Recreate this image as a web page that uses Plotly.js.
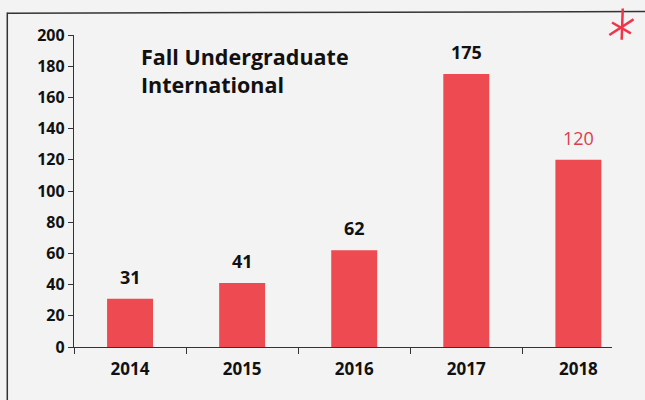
<!DOCTYPE html>
<html>
<head>
<meta charset="utf-8">
<script src="https://cdn.plot.ly/plotly-3.0.1.min.js"></script>
<style>html,body{margin:0;padding:0;background:#f3f3f3;}#chart{width:645px;height:400px;}</style>
</head>
<body>
<div id="chart"></div>
<script>
const years = ['2014', '2015', '2016', '2017', '2018'];
const students = [31, 41, 62, 175, 120];
const labelColors = ['#111111', '#111111', '#111111', '#111111', '#d9404c'];
const labelBold = [true, true, true, true, false];
const yTicks = [0, 20, 40, 60, 80, 100, 120, 140, 160, 180, 200];

const font = '"Open Sans", Lato, sans-serif';

const annotations = years.map((y, i) => ({
  x: i, y: students[i], xref: 'x', yref: 'y',
  text: labelBold[i] ? '<b>' + students[i] + '</b>' : String(students[i]),
  showarrow: false,
  yanchor: 'bottom', yshift: 8,
  font: {family: font, size: 18, color: labelColors[i]}
}));
annotations.push({
  xref: 'paper', yref: 'paper', x: 0.12, y: 0.985,
  xanchor: 'left', yanchor: 'top', align: 'left', showarrow: false,
  text: '<b>Fall Undergraduate<br>International</b>',
  font: {family: font, size: 21.5, color: '#111111'}
});

const layout = {
  width: 645, height: 400,
  margin: {l: 74, r: 33, t: 35, b: 53},
  paper_bgcolor: '#f3f3f3', plot_bgcolor: 'rgba(0,0,0,0)',
  showlegend: false,
  bargap: 0.59,
  xaxis: {
    type: 'category', range: [-0.5, 4.3],
    showline: true, linecolor: '#333', linewidth: 1.2,
    ticks: 'outside', tickson: 'boundaries', ticklen: 6, tickcolor: '#333',
    showgrid: false, zeroline: false,
    ticklabelstandoff: 6,
    tickfont: {family: font, size: 17, color: '#111', weight: 'bold'}
  },
  yaxis: {
    range: [0, 200], tickvals: yTicks,
    showline: true, linecolor: '#333', linewidth: 1.2,
    ticks: 'outside', ticklen: 5, tickcolor: '#333',
    showgrid: false, zeroline: false,
    tickfont: {family: font, size: 16, color: '#111', weight: 'bold'}
  },
  annotations: annotations,
  shapes: [
    {type: 'line', xref: 'paper', yref: 'paper', x0: -0.124, x1: 1.07, y0: 1.07, y1: 1.075, line: {color: '#333', width: 1.5}},
    {type: 'line', xref: 'paper', yref: 'paper', x0: -0.124, x1: -0.124, y0: 1.072, y1: -0.2, line: {color: '#333', width: 1.5}},
    {type: 'line', xref: 'paper', yref: 'paper', x0: 0.995, x1: 1.04, y0: 1.0, y1: 1.05, line: {color: '#f0344a', width: 2.5}},
    {type: 'line', xref: 'paper', yref: 'paper', x0: 1.0, x1: 1.035, y0: 1.04, y1: 1.005, line: {color: '#f0344a', width: 2.5}},
    {type: 'line', xref: 'paper', yref: 'paper', x0: 1.02, x1: 1.018, y0: 1.085, y1: 0.985, line: {color: '#f0344a', width: 2.5}}
  ]
};

const data = [{
  type: 'bar', x: years, y: students,
  marker: {color: '#ee4a51', line: {width: 0}},
  hoverinfo: 'x+y'
}];

Plotly.newPlot('chart', data, layout, {staticPlot: true});
</script>
</body>
</html>
